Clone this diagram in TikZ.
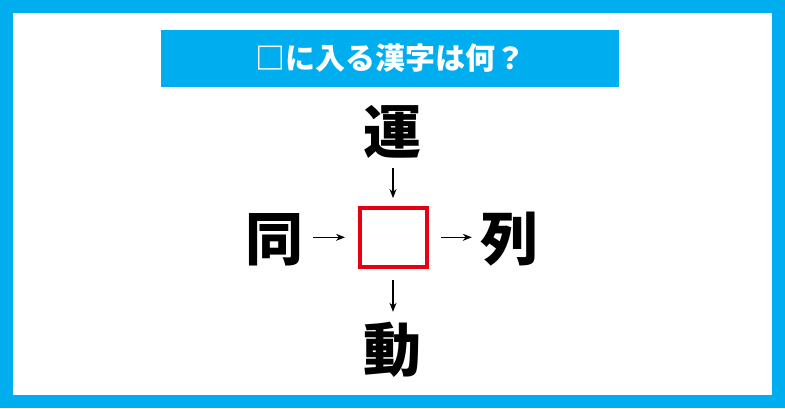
\documentclass[tikz,border=0pt]{standalone}
\usepackage{fontspec}
\setmainfont{Noto Sans CJK JP}
\usetikzlibrary{arrows.meta}
\definecolor{skyblue}{RGB}{0,174,239}
\definecolor{boxred}{RGB}{230,0,18}
\tikzset{
  kanji/.style={inner sep=0pt, minimum width=62pt, minimum height=62pt, font=\fontsize{58pt}{58pt}\selectfont\bfseries},
  blank/.style={draw=boxred, line width=4pt, minimum width=67pt, minimum height=59.5pt, inner sep=0pt},
  conn/.style={line width=1.3pt, -{Stealth[length=9pt,width=7pt]}},
}
\begin{document}
\begin{tikzpicture}[x=1pt,y=1pt]
\useasboundingbox (0,0) rectangle (785,-408);
\fill[skyblue] (0,0) rectangle (785,-408);
\fill[white] (13,-13) rectangle (772,-395);
\node[fill=skyblue, minimum width=458pt, minimum height=57pt, inner sep=0pt,
      text=white, font=\fontsize{30pt}{30pt}\selectfont\bfseries] (title) at (390,-58.5) {□に入る漢字は何？};
\node[blank] (sq) at (393,-237.3) {};
\node[kanji] (k1) at (392,-131.5) {運};
\node[kanji] (k2) at (274,-239.5) {同};
\node[kanji] (k3) at (509,-239.5) {列};
\node[kanji] (k4) at (392,-350) {動};
\draw[conn, shorten <=5pt, shorten >=7.5pt] (sq.north |- k1.south) -- (sq.north);
\draw[conn, shorten <=8pt, shorten >=12.5pt] (sq.west -| k2.east) -- (sq.west);
\draw[conn, shorten <=12.5pt, shorten >=6pt] (sq.east) -- (sq.east -| k3.west);
\draw[conn, shorten <=11pt, shorten >=7pt] (sq.south) -- (sq.south |- k4.north);
\end{tikzpicture}
\end{document}
